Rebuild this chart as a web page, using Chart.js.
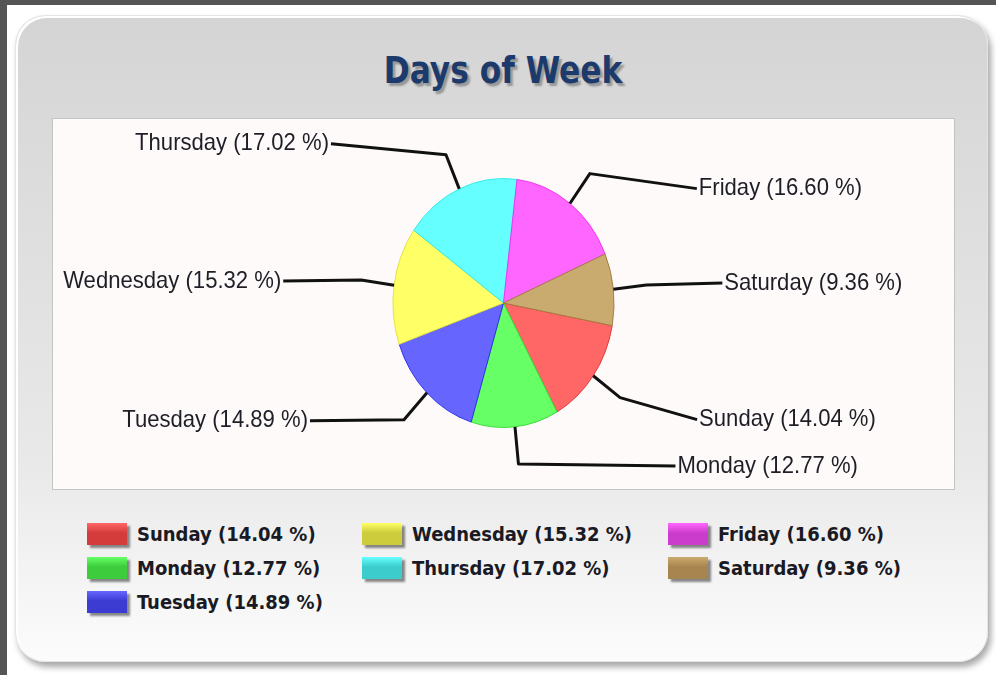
<!DOCTYPE html>
<html>
<head>
<meta charset="utf-8">
<title>Days of Week</title>
<script src="https://cdn.jsdelivr.net/npm/chart.js@4/dist/chart.umd.min.js"></script>
<style>
    body {
        margin: 0;
        width: 996px;
        height: 675px;
        background: #ffffff;
        overflow: hidden;
        position: relative;
    }
    #frameLeft { position: absolute; left: 0; top: 0; width: 7px; height: 675px; background: #555555; }
    #frameTop { position: absolute; left: 0; top: 0; width: 996px; height: 5px; background: #555555; }
    #panel {
        position: absolute;
        left: 15px; top: 15px;
        width: 971px; height: 645px;
        border: 1px solid #e4e4e4;
        border-radius: 30px;
        background: linear-gradient(to bottom, #d4d4d4 0%, #d9d9d9 15%, #e9e9e9 70%, #fcfcfc 100%);
        box-shadow: inset 2px 2px 0 #ffffff, 3px 5px 6px rgba(0, 0, 0, 0.35);
    }
    #title {
        position: absolute;
        left: 0; top: 48px;
        width: 1006px;
        text-align: center;
        font-family: "DejaVu Sans Condensed", "DejaVu Sans", sans-serif;
        font-weight: bold;
        font-size: 38px;
        line-height: 44px;
        color: #1c3a6c;
        text-shadow: 3px 3px 2px rgba(0, 0, 0, 0.3);
        transform: scaleX(0.915);
    }
    #plotBox {
        position: absolute;
        left: 52px; top: 118px;
        width: 901px; height: 370px;
        border: 1px solid #c4c4c4;
        background: #fefafa;
    }
    #plotBox canvas { display: block; }
    .legendItem {
        position: absolute;
        height: 24px;
        white-space: nowrap;
    }
    .legendBox {
        position: absolute;
        left: 0; top: 0;
        width: 40px; height: 22px;
        box-shadow: 3px 3px 2px rgba(0, 0, 0, 0.45);
    }
    .legendText {
        position: absolute;
        left: 50px; top: -2px;
        font-family: "DejaVu Sans Condensed", "DejaVu Sans", sans-serif;
        font-weight: bold;
        font-size: 20px;
        line-height: 26px;
        color: #1a1a24;
    }
</style>
</head>
<body>
<div id="frameLeft"></div>
<div id="frameTop"></div>
<div id="panel"></div>
<div id="title">Days of Week</div>
<div id="plotBox"><canvas id="pieChart" width="901" height="370"></canvas></div>
<div id="legend"></div>

<script>
// =============================
// Data
// =============================

const days = ['Sunday', 'Monday', 'Tuesday', 'Wednesday', 'Thursday', 'Friday', 'Saturday'];
const shares = [14.04, 12.77, 14.89, 15.32, 17.02, 16.60, 9.36];

const sliceColors = ['#ff6666', '#66ff66', '#6666ff', '#ffff66', '#66ffff', '#ff66ff', '#caab6f'];
const sliceEdges = ['#dd3333', '#33dd33', '#2a2aee', '#e0e040', '#30e8e8', '#f030f0', '#a07c40'];
const legendColors = ['#d43c3c', '#3ccc3c', '#3c3cd2', '#cccc3c', '#3ccccc', '#cc3ccc', '#a8844f'];


// =============================
// Layout
// =============================

const pieSquash = 0.888;      // pie is drawn a bit narrower than tall
const elbowFactor = 1.3;
// where each label sits, relative to its elbow point
const labelOffsets = [[77, 22], [157, 2], [-94, 1], [-78, 1], [-115, -11], [107, 15], [76, -2]];
// legend: how many entries go in each column
const legendColumnSizes = [3, 2, 2];
const legendColumns = [87, 362, 668];
const legendRows = [523, 557, 591];

function sliceLabel(i) {
    return days[i] + ' (' + shares[i].toFixed(2) + ' %)';
}


// =============================
// Plugins
// =============================

function drawLeaders(chart) {
    const ctx = chart.ctx;
    chart.getDatasetMeta(0).data.forEach((arc, i) => {
        const mid = (arc.startAngle + arc.endAngle) / 2;
        const r = arc.outerRadius;
        const ex = arc.x + Math.cos(mid) * r * pieSquash;
        const ey = arc.y + Math.sin(mid) * r;
        const bx = arc.x + Math.cos(mid) * r * elbowFactor * pieSquash;
        const by = arc.y + Math.sin(mid) * r * elbowFactor;
        const lx = bx + labelOffsets[i][0];
        const ly = by + labelOffsets[i][1];

        ctx.save();
        ctx.strokeStyle = '#111111';
        ctx.lineWidth = 3;
        ctx.lineJoin = 'round';
        ctx.beginPath();
        ctx.moveTo(ex, ey);
        ctx.lineTo(bx, by);
        ctx.lineTo(lx, ly);
        ctx.stroke();

        const right = lx > arc.x;
        ctx.font = '24px "Liberation Sans", Arial, sans-serif';
        ctx.fillStyle = '#1e1e26';
        ctx.textBaseline = 'middle';
        ctx.textAlign = right ? 'left' : 'right';
        ctx.translate(right ? lx + 2 : lx - 2, ly);
        ctx.scale(0.92, 1);
        ctx.fillText(sliceLabel(i), 0, 0);
        ctx.restore();
    });
}

const squashPie = {
    id: 'squashPie',
    beforeDatasetsDraw(chart) {
        const arc = chart.getDatasetMeta(0).data[0];
        const ctx = chart.ctx;
        ctx.save();
        ctx.translate(arc.x, arc.y);
        ctx.scale(pieSquash, 1);
        ctx.translate(-arc.x, -arc.y);
    },
    afterDatasetsDraw(chart) {
        chart.ctx.restore();
        drawLeaders(chart);
    }
};


// =============================
// Chart
// =============================

const pieChart = new Chart(document.getElementById('pieChart'), {
    type: 'pie',
    data: {
        labels: days,
        datasets: [{
            data: shares,
            backgroundColor: sliceColors,
            borderColor: sliceEdges,
            borderWidth: 1
        }]
    },
    options: {
        responsive: false,
        animation: false,
        rotation: 100.5,
        layout: {
            padding: { top: 59, bottom: 61, left: 0, right: 0 }
        },
        plugins: {
            legend: { display: false },
            tooltip: { enabled: false },
            title: { display: false }
        }
    },
    plugins: [squashPie]
});


// =============================
// Legend
// =============================

const legend = document.getElementById('legend');
let col = 0;
let row = 0;
days.forEach((day, i) => {
    if (row >= legendColumnSizes[col])
    {
        col++;
        row = 0;
    }

    const item = document.createElement('div');
    item.className = 'legendItem';
    item.style.left = legendColumns[col] + 'px';
    item.style.top = legendRows[row] + 'px';

    const box = document.createElement('div');
    box.className = 'legendBox';
    box.style.background = 'linear-gradient(to bottom, ' + sliceColors[i] + ' 0%, ' + legendColors[i] + ' 45%, ' + legendColors[i] + ' 100%)';

    const text = document.createElement('div');
    text.className = 'legendText';
    text.innerText = sliceLabel(i);

    item.appendChild(box);
    item.appendChild(text);
    legend.appendChild(item);
    row++;
});
</script>
</body>
</html>
